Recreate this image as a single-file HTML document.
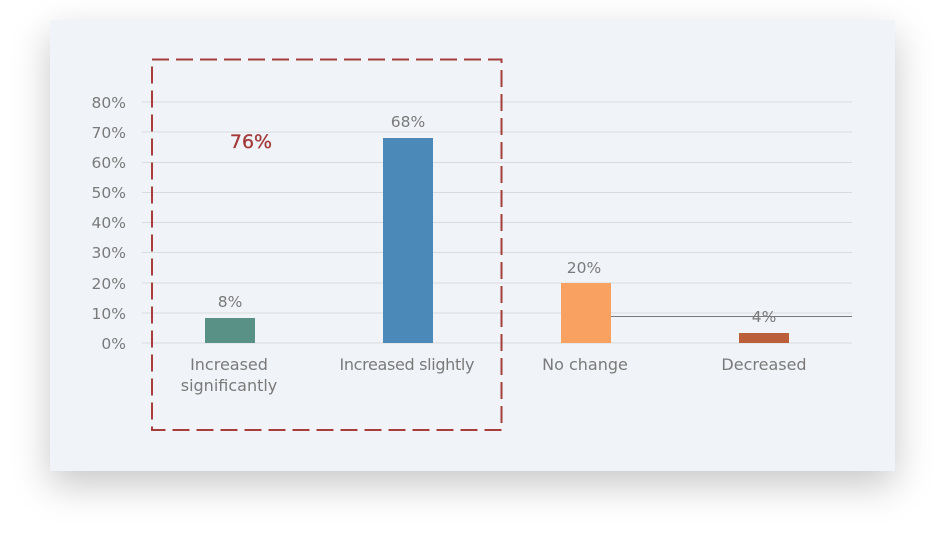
<!DOCTYPE html>
<html><head><style>
body{margin:0;background:#fff;width:946px;height:552px;overflow:hidden}
.p{position:absolute;left:50px;top:20px;width:845px;height:451px;background:#f0f3f7;box-shadow:0 14px 36px rgba(0,0,0,0.22)}
</style></head><body>
<div class="p"></div>
<svg style="position:absolute;left:0;top:0" width="946" height="552" font-family="DejaVu Sans, sans-serif">
<g stroke="#d9dcdf" stroke-width="1">
<line x1="142" x2="852" y1="102" y2="102"/><line x1="142" x2="852" y1="132" y2="132"/>
<line x1="142" x2="852" y1="162.5" y2="162.5"/><line x1="142" x2="852" y1="192.5" y2="192.5"/>
<line x1="142" x2="852" y1="222.5" y2="222.5"/><line x1="142" x2="852" y1="252.5" y2="252.5"/>
<line x1="142" x2="852" y1="283" y2="283"/><line x1="142" x2="852" y1="313" y2="313"/>
<line x1="142" x2="852" y1="343" y2="343"/>
</g>
<g fill="#7a7a7a" font-size="15.5" text-anchor="end">
<text x="126" y="108">80%</text><text x="126" y="138">70%</text><text x="126" y="168">60%</text>
<text x="126" y="198">50%</text><text x="126" y="228">40%</text><text x="126" y="258">30%</text>
<text x="126" y="289">20%</text><text x="126" y="319">10%</text><text x="126" y="349">0%</text>
</g>
<rect x="205" y="318" width="50" height="25" fill="#5a9187"/>
<rect x="383" y="138" width="50" height="205" fill="#4a89b8"/>
<rect x="561" y="283" width="50" height="60" fill="#f9a160"/>
<rect x="739" y="333" width="50" height="10" fill="#bb5e3a"/>
<line x1="611" x2="852" y1="316.5" y2="316.5" stroke="#7a7a7a" stroke-width="1"/>
<g fill="#7a7a7a" font-size="15.5" text-anchor="middle">
<text x="230" y="307">8%</text><text x="408" y="127">68%</text><text x="584" y="273">20%</text><text x="764" y="322">4%</text>
</g>
<g fill="#7a7a7a" font-size="16" text-anchor="middle">
<text x="229" y="370">Increased</text><text x="229" y="391">significantly</text>
<text x="407" y="370" textLength="135">Increased slightly</text>
<text x="585" y="370">No change</text><text x="764" y="370">Decreased</text>
</g>
<text x="251" y="148" fill="#a33a3a" font-size="19" text-anchor="middle" stroke="#a33a3a" stroke-width="0.3">76%</text>
<rect x="152" y="59.5" width="349.5" height="370.5" fill="none" stroke="#a63c3c" stroke-width="2" stroke-dasharray="17,7"/>
</svg>
</body></html>
